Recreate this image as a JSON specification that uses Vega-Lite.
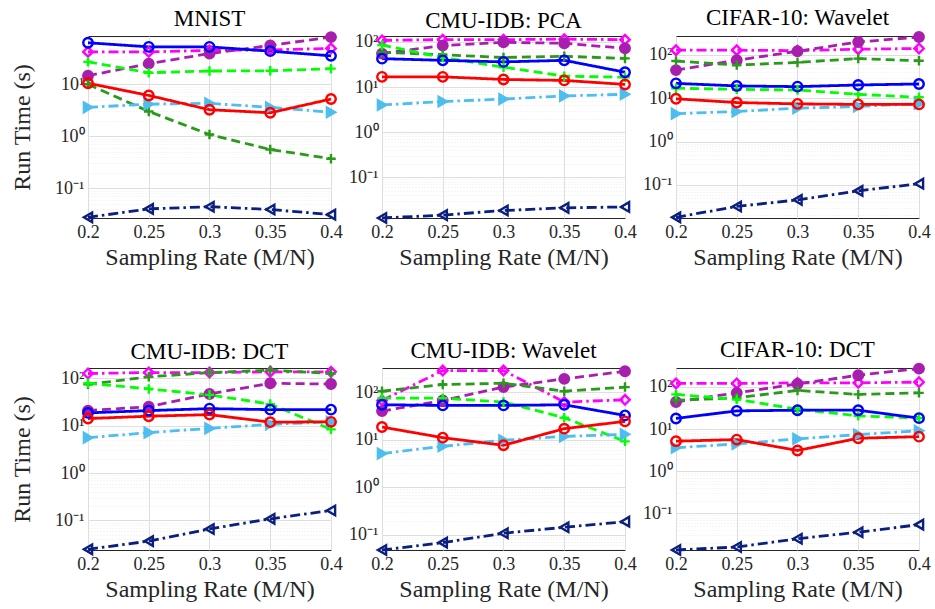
{
"$schema": "https://vega.github.io/schema/vega-lite/v6.json",
"background": "white",
"padding": {"left": 10, "top": 6, "right": 4, "bottom": 2},
"data": {"values": [
{"panel":"MNIST","series":"magenta","x":0.2,"y":42},{"panel":"MNIST","series":"magenta","x":0.25,"y":42},{"panel":"MNIST","series":"magenta","x":0.3,"y":45},{"panel":"MNIST","series":"magenta","x":0.35,"y":46},{"panel":"MNIST","series":"magenta","x":0.4,"y":49},
{"panel":"CMU-IDB: PCA","series":"magenta","x":0.2,"y":108},{"panel":"CMU-IDB: PCA","series":"magenta","x":0.25,"y":112},{"panel":"CMU-IDB: PCA","series":"magenta","x":0.3,"y":112},{"panel":"CMU-IDB: PCA","series":"magenta","x":0.35,"y":115},{"panel":"CMU-IDB: PCA","series":"magenta","x":0.4,"y":112},
{"panel":"CIFAR-10: Wavelet","series":"magenta","x":0.2,"y":128},{"panel":"CIFAR-10: Wavelet","series":"magenta","x":0.25,"y":128},{"panel":"CIFAR-10: Wavelet","series":"magenta","x":0.3,"y":125},{"panel":"CIFAR-10: Wavelet","series":"magenta","x":0.35,"y":135},{"panel":"CIFAR-10: Wavelet","series":"magenta","x":0.4,"y":140},
{"panel":"CMU-IDB: DCT","series":"magenta","x":0.2,"y":127},{"panel":"CMU-IDB: DCT","series":"magenta","x":0.25,"y":133},{"panel":"CMU-IDB: DCT","series":"magenta","x":0.3,"y":133},{"panel":"CMU-IDB: DCT","series":"magenta","x":0.35,"y":138},{"panel":"CMU-IDB: DCT","series":"magenta","x":0.4,"y":138},
{"panel":"CMU-IDB: Wavelet","series":"magenta","x":0.2,"y":66.5},{"panel":"CMU-IDB: Wavelet","series":"magenta","x":0.25,"y":283},{"panel":"CMU-IDB: Wavelet","series":"magenta","x":0.3,"y":283},{"panel":"CMU-IDB: Wavelet","series":"magenta","x":0.35,"y":61.5},{"panel":"CMU-IDB: Wavelet","series":"magenta","x":0.4,"y":68.7},
{"panel":"CIFAR-10: DCT","series":"magenta","x":0.2,"y":120},{"panel":"CIFAR-10: DCT","series":"magenta","x":0.25,"y":120},{"panel":"CIFAR-10: DCT","series":"magenta","x":0.3,"y":124},{"panel":"CIFAR-10: DCT","series":"magenta","x":0.35,"y":124},{"panel":"CIFAR-10: DCT","series":"magenta","x":0.4,"y":129},

{"panel":"MNIST","series":"purple","x":0.2,"y":14.6},{"panel":"MNIST","series":"purple","x":0.25,"y":25},{"panel":"MNIST","series":"purple","x":0.3,"y":39},{"panel":"MNIST","series":"purple","x":0.35,"y":56},{"panel":"MNIST","series":"purple","x":0.4,"y":81},
{"panel":"CMU-IDB: PCA","series":"purple","x":0.2,"y":55},{"panel":"CMU-IDB: PCA","series":"purple","x":0.25,"y":83},{"panel":"CMU-IDB: PCA","series":"purple","x":0.3,"y":98},{"panel":"CMU-IDB: PCA","series":"purple","x":0.35,"y":93},{"panel":"CMU-IDB: PCA","series":"purple","x":0.4,"y":72},
{"panel":"CIFAR-10: Wavelet","series":"purple","x":0.2,"y":44.5},{"panel":"CIFAR-10: Wavelet","series":"purple","x":0.25,"y":75},{"panel":"CIFAR-10: Wavelet","series":"purple","x":0.3,"y":121},{"panel":"CIFAR-10: Wavelet","series":"purple","x":0.35,"y":198},{"panel":"CIFAR-10: Wavelet","series":"purple","x":0.4,"y":258},
{"panel":"CMU-IDB: DCT","series":"purple","x":0.2,"y":20.9},{"panel":"CMU-IDB: DCT","series":"purple","x":0.25,"y":25.3},{"panel":"CMU-IDB: DCT","series":"purple","x":0.3,"y":47},{"panel":"CMU-IDB: DCT","series":"purple","x":0.35,"y":79},{"panel":"CMU-IDB: DCT","series":"purple","x":0.4,"y":76},
{"panel":"CMU-IDB: Wavelet","series":"purple","x":0.2,"y":39.8},{"panel":"CMU-IDB: Wavelet","series":"purple","x":0.25,"y":66.5},{"panel":"CMU-IDB: Wavelet","series":"purple","x":0.3,"y":127},{"panel":"CMU-IDB: Wavelet","series":"purple","x":0.35,"y":189},{"panel":"CMU-IDB: Wavelet","series":"purple","x":0.4,"y":273},
{"panel":"CIFAR-10: DCT","series":"purple","x":0.2,"y":43.7},{"panel":"CIFAR-10: DCT","series":"purple","x":0.25,"y":72},{"panel":"CIFAR-10: DCT","series":"purple","x":0.3,"y":117},{"panel":"CIFAR-10: DCT","series":"purple","x":0.35,"y":188},{"panel":"CIFAR-10: DCT","series":"purple","x":0.4,"y":270},

{"panel":"MNIST","series":"dgreen","x":0.2,"y":10},{"panel":"MNIST","series":"dgreen","x":0.25,"y":3.0},{"panel":"MNIST","series":"dgreen","x":0.3,"y":1.08},{"panel":"MNIST","series":"dgreen","x":0.35,"y":0.556},{"panel":"MNIST","series":"dgreen","x":0.4,"y":0.37},
{"panel":"CMU-IDB: PCA","series":"dgreen","x":0.2,"y":59},{"panel":"CMU-IDB: PCA","series":"dgreen","x":0.25,"y":52},{"panel":"CMU-IDB: PCA","series":"dgreen","x":0.3,"y":45},{"panel":"CMU-IDB: PCA","series":"dgreen","x":0.35,"y":48},{"panel":"CMU-IDB: PCA","series":"dgreen","x":0.4,"y":43},
{"panel":"CIFAR-10: Wavelet","series":"dgreen","x":0.2,"y":72},{"panel":"CIFAR-10: Wavelet","series":"dgreen","x":0.25,"y":58},{"panel":"CIFAR-10: Wavelet","series":"dgreen","x":0.3,"y":67},{"panel":"CIFAR-10: Wavelet","series":"dgreen","x":0.35,"y":82},{"panel":"CIFAR-10: Wavelet","series":"dgreen","x":0.4,"y":73},
{"panel":"CMU-IDB: DCT","series":"dgreen","x":0.2,"y":75},{"panel":"CMU-IDB: DCT","series":"dgreen","x":0.25,"y":108},{"panel":"CMU-IDB: DCT","series":"dgreen","x":0.3,"y":133},{"panel":"CMU-IDB: DCT","series":"dgreen","x":0.35,"y":149},{"panel":"CMU-IDB: DCT","series":"dgreen","x":0.4,"y":127},
{"panel":"CMU-IDB: Wavelet","series":"dgreen","x":0.2,"y":104},{"panel":"CMU-IDB: Wavelet","series":"dgreen","x":0.25,"y":144},{"panel":"CMU-IDB: Wavelet","series":"dgreen","x":0.3,"y":153},{"panel":"CMU-IDB: Wavelet","series":"dgreen","x":0.35,"y":104},{"panel":"CMU-IDB: Wavelet","series":"dgreen","x":0.4,"y":127},
{"panel":"CIFAR-10: DCT","series":"dgreen","x":0.2,"y":47.9},{"panel":"CIFAR-10: DCT","series":"dgreen","x":0.25,"y":55},{"panel":"CIFAR-10: DCT","series":"dgreen","x":0.3,"y":82},{"panel":"CIFAR-10: DCT","series":"dgreen","x":0.35,"y":66},{"panel":"CIFAR-10: DCT","series":"dgreen","x":0.4,"y":72},

{"panel":"MNIST","series":"bgreen","x":0.2,"y":27},{"panel":"MNIST","series":"bgreen","x":0.25,"y":16.7},{"panel":"MNIST","series":"bgreen","x":0.3,"y":18},{"panel":"MNIST","series":"bgreen","x":0.35,"y":18.2},{"panel":"MNIST","series":"bgreen","x":0.4,"y":20},
{"panel":"CMU-IDB: PCA","series":"bgreen","x":0.2,"y":85},{"panel":"CMU-IDB: PCA","series":"bgreen","x":0.25,"y":45},{"panel":"CMU-IDB: PCA","series":"bgreen","x":0.3,"y":27.5},{"panel":"CMU-IDB: PCA","series":"bgreen","x":0.35,"y":17.4},{"panel":"CMU-IDB: PCA","series":"bgreen","x":0.4,"y":16.5},
{"panel":"CIFAR-10: Wavelet","series":"bgreen","x":0.2,"y":17},{"panel":"CIFAR-10: Wavelet","series":"bgreen","x":0.25,"y":16},{"panel":"CIFAR-10: Wavelet","series":"bgreen","x":0.3,"y":15.5},{"panel":"CIFAR-10: Wavelet","series":"bgreen","x":0.35,"y":12.3},{"panel":"CIFAR-10: Wavelet","series":"bgreen","x":0.4,"y":10.5},
{"panel":"CMU-IDB: DCT","series":"bgreen","x":0.2,"y":79},{"panel":"CMU-IDB: DCT","series":"bgreen","x":0.25,"y":60},{"panel":"CMU-IDB: DCT","series":"bgreen","x":0.3,"y":45},{"panel":"CMU-IDB: DCT","series":"bgreen","x":0.35,"y":28.7},{"panel":"CMU-IDB: DCT","series":"bgreen","x":0.4,"y":8.4},
{"panel":"CMU-IDB: Wavelet","series":"bgreen","x":0.2,"y":74.5},{"panel":"CMU-IDB: Wavelet","series":"bgreen","x":0.25,"y":74.5},{"panel":"CMU-IDB: Wavelet","series":"bgreen","x":0.3,"y":61.5},{"panel":"CMU-IDB: Wavelet","series":"bgreen","x":0.35,"y":28.9},{"panel":"CMU-IDB: Wavelet","series":"bgreen","x":0.4,"y":9.2},
{"panel":"CIFAR-10: DCT","series":"bgreen","x":0.2,"y":66},{"panel":"CIFAR-10: DCT","series":"bgreen","x":0.25,"y":50.5},{"panel":"CIFAR-10: DCT","series":"bgreen","x":0.3,"y":29.4},{"panel":"CIFAR-10: DCT","series":"bgreen","x":0.35,"y":20.5},{"panel":"CIFAR-10: DCT","series":"bgreen","x":0.4,"y":18.1},

{"panel":"MNIST","series":"lblue","x":0.2,"y":3.6},{"panel":"MNIST","series":"lblue","x":0.25,"y":4.15},{"panel":"MNIST","series":"lblue","x":0.3,"y":4.3},{"panel":"MNIST","series":"lblue","x":0.35,"y":3.6},{"panel":"MNIST","series":"lblue","x":0.4,"y":2.9},
{"panel":"CMU-IDB: PCA","series":"lblue","x":0.2,"y":4.0},{"panel":"CMU-IDB: PCA","series":"lblue","x":0.25,"y":4.77},{"panel":"CMU-IDB: PCA","series":"lblue","x":0.3,"y":5.4},{"panel":"CMU-IDB: PCA","series":"lblue","x":0.35,"y":6.35},{"panel":"CMU-IDB: PCA","series":"lblue","x":0.4,"y":6.9},
{"panel":"CIFAR-10: Wavelet","series":"lblue","x":0.2,"y":4.4},{"panel":"CIFAR-10: Wavelet","series":"lblue","x":0.25,"y":4.95},{"panel":"CIFAR-10: Wavelet","series":"lblue","x":0.3,"y":5.9},{"panel":"CIFAR-10: Wavelet","series":"lblue","x":0.35,"y":6.45},{"panel":"CIFAR-10: Wavelet","series":"lblue","x":0.4,"y":7.5},
{"panel":"CMU-IDB: DCT","series":"lblue","x":0.2,"y":5.6},{"panel":"CMU-IDB: DCT","series":"lblue","x":0.25,"y":7.15},{"panel":"CMU-IDB: DCT","series":"lblue","x":0.3,"y":8.8},{"panel":"CMU-IDB: DCT","series":"lblue","x":0.35,"y":10.7},{"panel":"CMU-IDB: DCT","series":"lblue","x":0.4,"y":12.1},
{"panel":"CMU-IDB: Wavelet","series":"lblue","x":0.2,"y":5.1},{"panel":"CMU-IDB: Wavelet","series":"lblue","x":0.25,"y":7.25},{"panel":"CMU-IDB: Wavelet","series":"lblue","x":0.3,"y":9.7},{"panel":"CMU-IDB: Wavelet","series":"lblue","x":0.35,"y":11.7},{"panel":"CMU-IDB: Wavelet","series":"lblue","x":0.4,"y":12.9},
{"panel":"CIFAR-10: DCT","series":"lblue","x":0.2,"y":3.6},{"panel":"CIFAR-10: DCT","series":"lblue","x":0.25,"y":4.45},{"panel":"CIFAR-10: DCT","series":"lblue","x":0.3,"y":5.83},{"panel":"CIFAR-10: DCT","series":"lblue","x":0.35,"y":7.36},{"panel":"CIFAR-10: DCT","series":"lblue","x":0.4,"y":9.1},

{"panel":"MNIST","series":"navy","x":0.2,"y":0.0275},{"panel":"MNIST","series":"navy","x":0.25,"y":0.04},{"panel":"MNIST","series":"navy","x":0.3,"y":0.044},{"panel":"MNIST","series":"navy","x":0.35,"y":0.039},{"panel":"MNIST","series":"navy","x":0.4,"y":0.031},
{"panel":"CMU-IDB: PCA","series":"navy","x":0.2,"y":0.0125},{"panel":"CMU-IDB: PCA","series":"navy","x":0.25,"y":0.0145},{"panel":"CMU-IDB: PCA","series":"navy","x":0.3,"y":0.0183},{"panel":"CMU-IDB: PCA","series":"navy","x":0.35,"y":0.021},{"panel":"CMU-IDB: PCA","series":"navy","x":0.4,"y":0.022},
{"panel":"CIFAR-10: Wavelet","series":"navy","x":0.2,"y":0.0179},{"panel":"CIFAR-10: Wavelet","series":"navy","x":0.25,"y":0.0319},{"panel":"CIFAR-10: Wavelet","series":"navy","x":0.3,"y":0.0453},{"panel":"CIFAR-10: Wavelet","series":"navy","x":0.35,"y":0.073},{"panel":"CIFAR-10: Wavelet","series":"navy","x":0.4,"y":0.107},
{"panel":"CMU-IDB: DCT","series":"navy","x":0.2,"y":0.0245},{"panel":"CMU-IDB: DCT","series":"navy","x":0.25,"y":0.0365},{"panel":"CMU-IDB: DCT","series":"navy","x":0.3,"y":0.066},{"panel":"CMU-IDB: DCT","series":"navy","x":0.35,"y":0.108},{"panel":"CMU-IDB: DCT","series":"navy","x":0.4,"y":0.162},
{"panel":"CMU-IDB: Wavelet","series":"navy","x":0.2,"y":0.048},{"panel":"CMU-IDB: Wavelet","series":"navy","x":0.25,"y":0.0687},{"panel":"CMU-IDB: Wavelet","series":"navy","x":0.3,"y":0.108},{"panel":"CMU-IDB: Wavelet","series":"navy","x":0.35,"y":0.144},{"panel":"CMU-IDB: Wavelet","series":"navy","x":0.4,"y":0.189},
{"panel":"CIFAR-10: DCT","series":"navy","x":0.2,"y":0.0136},{"panel":"CIFAR-10: DCT","series":"navy","x":0.25,"y":0.016},{"panel":"CIFAR-10: DCT","series":"navy","x":0.3,"y":0.0251},{"panel":"CIFAR-10: DCT","series":"navy","x":0.35,"y":0.0359},{"panel":"CIFAR-10: DCT","series":"navy","x":0.4,"y":0.0542},

{"panel":"MNIST","series":"blue","x":0.2,"y":63},{"panel":"MNIST","series":"blue","x":0.25,"y":52.5},{"panel":"MNIST","series":"blue","x":0.3,"y":52.5},{"panel":"MNIST","series":"blue","x":0.35,"y":43.4},{"panel":"MNIST","series":"blue","x":0.4,"y":35.3},
{"panel":"CMU-IDB: PCA","series":"blue","x":0.2,"y":42.5},{"panel":"CMU-IDB: PCA","series":"blue","x":0.25,"y":39},{"panel":"CMU-IDB: PCA","series":"blue","x":0.3,"y":36},{"panel":"CMU-IDB: PCA","series":"blue","x":0.35,"y":39},{"panel":"CMU-IDB: PCA","series":"blue","x":0.4,"y":21.3},
{"panel":"CIFAR-10: Wavelet","series":"blue","x":0.2,"y":22},{"panel":"CIFAR-10: Wavelet","series":"blue","x":0.25,"y":19.2},{"panel":"CIFAR-10: Wavelet","series":"blue","x":0.3,"y":18.5},{"panel":"CIFAR-10: Wavelet","series":"blue","x":0.35,"y":20.2},{"panel":"CIFAR-10: Wavelet","series":"blue","x":0.4,"y":21.3},
{"panel":"CMU-IDB: DCT","series":"blue","x":0.2,"y":18.7},{"panel":"CMU-IDB: DCT","series":"blue","x":0.25,"y":20.9},{"panel":"CMU-IDB: DCT","series":"blue","x":0.3,"y":23},{"panel":"CMU-IDB: DCT","series":"blue","x":0.35,"y":21.9},{"panel":"CMU-IDB: DCT","series":"blue","x":0.4,"y":21.9},
{"panel":"CMU-IDB: Wavelet","series":"blue","x":0.2,"y":54},{"panel":"CMU-IDB: Wavelet","series":"blue","x":0.25,"y":52.4},{"panel":"CMU-IDB: Wavelet","series":"blue","x":0.3,"y":52.4},{"panel":"CMU-IDB: Wavelet","series":"blue","x":0.35,"y":54},{"panel":"CMU-IDB: Wavelet","series":"blue","x":0.4,"y":32.3},
{"panel":"CIFAR-10: DCT","series":"blue","x":0.2,"y":17.8},{"panel":"CIFAR-10: DCT","series":"blue","x":0.25,"y":26.9},{"panel":"CIFAR-10: DCT","series":"blue","x":0.3,"y":27.9},{"panel":"CIFAR-10: DCT","series":"blue","x":0.35,"y":27.9},{"panel":"CIFAR-10: DCT","series":"blue","x":0.4,"y":18.1},

{"panel":"MNIST","series":"red","x":0.2,"y":10.5},{"panel":"MNIST","series":"red","x":0.25,"y":6.1},{"panel":"MNIST","series":"red","x":0.3,"y":3.24},{"panel":"MNIST","series":"red","x":0.35,"y":2.83},{"panel":"MNIST","series":"red","x":0.4,"y":5.2},
{"panel":"CMU-IDB: PCA","series":"red","x":0.2,"y":16.8},{"panel":"CMU-IDB: PCA","series":"red","x":0.25,"y":16.8},{"panel":"CMU-IDB: PCA","series":"red","x":0.3,"y":14.7},{"panel":"CMU-IDB: PCA","series":"red","x":0.35,"y":14},{"panel":"CMU-IDB: PCA","series":"red","x":0.4,"y":11.4},
{"panel":"CIFAR-10: Wavelet","series":"red","x":0.2,"y":9.7},{"panel":"CIFAR-10: Wavelet","series":"red","x":0.25,"y":7.95},{"panel":"CIFAR-10: Wavelet","series":"red","x":0.3,"y":7.4},{"panel":"CIFAR-10: Wavelet","series":"red","x":0.35,"y":7.2},{"panel":"CIFAR-10: Wavelet","series":"red","x":0.4,"y":7.2},
{"panel":"CMU-IDB: DCT","series":"red","x":0.2,"y":14.2},{"panel":"CMU-IDB: DCT","series":"red","x":0.25,"y":15.9},{"panel":"CMU-IDB: DCT","series":"red","x":0.3,"y":17.2},{"panel":"CMU-IDB: DCT","series":"red","x":0.35,"y":11.9},{"panel":"CMU-IDB: DCT","series":"red","x":0.4,"y":12.1},
{"panel":"CMU-IDB: Wavelet","series":"red","x":0.2,"y":18.4},{"panel":"CMU-IDB: Wavelet","series":"red","x":0.25,"y":11},{"panel":"CMU-IDB: Wavelet","series":"red","x":0.3,"y":7.6},{"panel":"CMU-IDB: Wavelet","series":"red","x":0.35,"y":17},{"panel":"CMU-IDB: Wavelet","series":"red","x":0.4,"y":24.2},
{"panel":"CIFAR-10: DCT","series":"red","x":0.2,"y":5.15},{"panel":"CIFAR-10: DCT","series":"red","x":0.25,"y":5.62},{"panel":"CIFAR-10: DCT","series":"red","x":0.3,"y":3.1},{"panel":"CIFAR-10: DCT","series":"red","x":0.35,"y":6.04},{"panel":"CIFAR-10: DCT","series":"red","x":0.4,"y":6.6}
]},
"config": {
  "font": "Liberation Serif",
  "view": {"stroke": "#262626", "strokeWidth": 1},
  "axis": {"labelFont": "Liberation Serif", "labelFontSize": 18, "labelColor": "#262626", "titleFont": "Liberation Serif", "titleFontSize": 24, "titleFontWeight": "normal", "titleColor": "#262626", "domain": false, "ticks": false, "gridColor": "#dedede", "gridWidth": 1, "labelOverlap": false},
  "axisX": {"labelFlush": false, "labelPadding": 5, "titlePadding": 4},
  "axisY": {"labelPadding": 4, "titlePadding": 20},
  "title": {"font": "Liberation Serif", "fontSize": 23, "fontWeight": "normal", "color": "#000000", "offset": -3}
},
"columns": 3,
"spacing": {"row": 150, "column": 51},
"bounds": "flush",
"concat": [
{
  "title": "MNIST", "width": 243, "height": 182,
  "transform": [{"filter": "datum.panel === 'MNIST'"}],
  "encoding": {
    "x": {"field": "x", "type": "quantitative", "scale": {"domain": [0.2, 0.4], "nice": false, "zero": false}, "axis": {"values": [0.2, 0.25, 0.3, 0.35, 0.4], "format": "~g"}, "title": "Sampling Rate (M/N)"},
    "y": {"field": "y", "type": "quantitative", "scale": {"type": "log", "domain": [0.0267, 85], "nice": false}, "title": "Run Time (s)",
      "axis": {"values": [0.03,0.04,0.05,0.06,0.07,0.08,0.09,0.1,0.2,0.3,0.4,0.5,0.6,0.7,0.8,0.9,1,2,3,4,5,6,7,8,9,10,20,30,40,50,60,70,80],
        "labelExpr": "datum.value == 100 ? '10²' : datum.value == 10 ? '10¹' : datum.value == 1 ? '10⁰' : datum.value == 0.1 ? '10⁻¹' : ''",
        "gridDash": {"condition": {"test": "datum.value != 0.1 && datum.value != 1 && datum.value != 10 && datum.value != 100", "value": [1, 2]}, "value": []},
        "gridOpacity": {"condition": {"test": "datum.value != 0.1 && datum.value != 1 && datum.value != 10 && datum.value != 100", "value": 0.55}, "value": 1}}},
    "stroke": {"field": "series", "type": "nominal", "legend": null, "scale": {"domain": ["blue","red","lblue","navy","dgreen","bgreen","magenta","purple"], "range": ["#0000ff","#ff0000","#4dbeee","#0a1f7f","#2a9a1a","#00ff00","#ff00ff","#a81fae"]}}
  },
  "layer": [
    {"mark": {"type": "line", "strokeWidth": 2.8}, "encoding": {"strokeDash": {"field": "series", "type": "nominal", "legend": null, "scale": {"domain": ["blue","red","lblue","navy","dgreen","bgreen","magenta","purple"], "range": [[1,0],[1,0],[10,4,2.5,4],[10,4,2.5,4],[9,5],[9,5],[10,4,2.5,4],[9,5]]}}}},
    {"mark": {"type": "point", "filled": false, "strokeWidth": 2.4, "opacity": 1}, "encoding": {
      "shape": {"field": "series", "type": "nominal", "legend": null, "scale": {"domain": ["blue","red","lblue","navy","dgreen","bgreen","magenta","purple"], "range": ["circle","circle","triangle-right","triangle-left","M-1,0H1M0,-1V1","M-1,0H1M0,-1V1","diamond","circle"]}},
      "fill": {"field": "series", "type": "nominal", "legend": null, "scale": {"domain": ["blue","red","lblue","navy","dgreen","bgreen","magenta","purple"], "range": ["transparent","transparent","#4dbeee","transparent","transparent","transparent","transparent","#a81fae"]}},
      "size": {"field": "series", "type": "nominal", "legend": null, "scale": {"domain": ["blue","red","lblue","navy","dgreen","bgreen","magenta","purple"], "range": [90,90,140,120,110,110,130,40]}}}}
  ]
},
{
  "title": "CMU-IDB: PCA", "width": 243, "height": 182,
  "transform": [{"filter": "datum.panel === 'CMU-IDB: PCA'"}],
  "encoding": {
    "x": {"field": "x", "type": "quantitative", "scale": {"domain": [0.2, 0.4], "nice": false, "zero": false}, "axis": {"values": [0.2, 0.25, 0.3, 0.35, 0.4], "format": "~g"}, "title": "Sampling Rate (M/N)"},
    "y": {"field": "y", "type": "quantitative", "scale": {"type": "log", "domain": [0.0125, 135], "nice": false}, "title": null,
      "axis": {"values": [0.02,0.03,0.04,0.05,0.06,0.07,0.08,0.09,0.1,0.2,0.3,0.4,0.5,0.6,0.7,0.8,0.9,1,2,3,4,5,6,7,8,9,10,20,30,40,50,60,70,80,90,100],
        "labelExpr": "datum.value == 100 ? '10²' : datum.value == 10 ? '10¹' : datum.value == 1 ? '10⁰' : datum.value == 0.1 ? '10⁻¹' : ''",
        "gridDash": {"condition": {"test": "datum.value != 0.1 && datum.value != 1 && datum.value != 10 && datum.value != 100", "value": [1, 2]}, "value": []},
        "gridOpacity": {"condition": {"test": "datum.value != 0.1 && datum.value != 1 && datum.value != 10 && datum.value != 100", "value": 0.55}, "value": 1}}},
    "stroke": {"field": "series", "type": "nominal", "legend": null, "scale": {"domain": ["blue","red","lblue","navy","dgreen","bgreen","magenta","purple"], "range": ["#0000ff","#ff0000","#4dbeee","#0a1f7f","#2a9a1a","#00ff00","#ff00ff","#a81fae"]}}
  },
  "layer": [
    {"mark": {"type": "line", "strokeWidth": 2.8}, "encoding": {"strokeDash": {"field": "series", "type": "nominal", "legend": null, "scale": {"domain": ["blue","red","lblue","navy","dgreen","bgreen","magenta","purple"], "range": [[1,0],[1,0],[10,4,2.5,4],[10,4,2.5,4],[9,5],[9,5],[10,4,2.5,4],[9,5]]}}}},
    {"mark": {"type": "point", "filled": false, "strokeWidth": 2.4, "opacity": 1}, "encoding": {
      "shape": {"field": "series", "type": "nominal", "legend": null, "scale": {"domain": ["blue","red","lblue","navy","dgreen","bgreen","magenta","purple"], "range": ["circle","circle","triangle-right","triangle-left","M-1,0H1M0,-1V1","M-1,0H1M0,-1V1","diamond","circle"]}},
      "fill": {"field": "series", "type": "nominal", "legend": null, "scale": {"domain": ["blue","red","lblue","navy","dgreen","bgreen","magenta","purple"], "range": ["transparent","transparent","#4dbeee","transparent","transparent","transparent","transparent","#a81fae"]}},
      "size": {"field": "series", "type": "nominal", "legend": null, "scale": {"domain": ["blue","red","lblue","navy","dgreen","bgreen","magenta","purple"], "range": [90,90,140,120,110,110,130,40]}}}}
  ]
},
{
  "title": "CIFAR-10: Wavelet", "width": 243, "height": 182,
  "transform": [{"filter": "datum.panel === 'CIFAR-10: Wavelet'"}],
  "encoding": {
    "x": {"field": "x", "type": "quantitative", "scale": {"domain": [0.2, 0.4], "nice": false, "zero": false}, "axis": {"values": [0.2, 0.25, 0.3, 0.35, 0.4], "format": "~g"}, "title": "Sampling Rate (M/N)"},
    "y": {"field": "y", "type": "quantitative", "scale": {"type": "log", "domain": [0.0173, 272], "nice": false}, "title": null,
      "axis": {"values": [0.02,0.03,0.04,0.05,0.06,0.07,0.08,0.09,0.1,0.2,0.3,0.4,0.5,0.6,0.7,0.8,0.9,1,2,3,4,5,6,7,8,9,10,20,30,40,50,60,70,80,90,100,200],
        "labelExpr": "datum.value == 100 ? '10²' : datum.value == 10 ? '10¹' : datum.value == 1 ? '10⁰' : datum.value == 0.1 ? '10⁻¹' : ''",
        "gridDash": {"condition": {"test": "datum.value != 0.1 && datum.value != 1 && datum.value != 10 && datum.value != 100", "value": [1, 2]}, "value": []},
        "gridOpacity": {"condition": {"test": "datum.value != 0.1 && datum.value != 1 && datum.value != 10 && datum.value != 100", "value": 0.55}, "value": 1}}},
    "stroke": {"field": "series", "type": "nominal", "legend": null, "scale": {"domain": ["blue","red","lblue","navy","dgreen","bgreen","magenta","purple"], "range": ["#0000ff","#ff0000","#4dbeee","#0a1f7f","#2a9a1a","#00ff00","#ff00ff","#a81fae"]}}
  },
  "layer": [
    {"mark": {"type": "line", "strokeWidth": 2.8}, "encoding": {"strokeDash": {"field": "series", "type": "nominal", "legend": null, "scale": {"domain": ["blue","red","lblue","navy","dgreen","bgreen","magenta","purple"], "range": [[1,0],[1,0],[10,4,2.5,4],[10,4,2.5,4],[9,5],[9,5],[10,4,2.5,4],[9,5]]}}}},
    {"mark": {"type": "point", "filled": false, "strokeWidth": 2.4, "opacity": 1}, "encoding": {
      "shape": {"field": "series", "type": "nominal", "legend": null, "scale": {"domain": ["blue","red","lblue","navy","dgreen","bgreen","magenta","purple"], "range": ["circle","circle","triangle-right","triangle-left","M-1,0H1M0,-1V1","M-1,0H1M0,-1V1","diamond","circle"]}},
      "fill": {"field": "series", "type": "nominal", "legend": null, "scale": {"domain": ["blue","red","lblue","navy","dgreen","bgreen","magenta","purple"], "range": ["transparent","transparent","#4dbeee","transparent","transparent","transparent","transparent","#a81fae"]}},
      "size": {"field": "series", "type": "nominal", "legend": null, "scale": {"domain": ["blue","red","lblue","navy","dgreen","bgreen","magenta","purple"], "range": [90,90,140,120,110,110,130,40]}}}}
  ]
},
{
  "title": "CMU-IDB: DCT", "width": 243, "height": 182,
  "transform": [{"filter": "datum.panel === 'CMU-IDB: DCT'"}],
  "encoding": {
    "x": {"field": "x", "type": "quantitative", "scale": {"domain": [0.2, 0.4], "nice": false, "zero": false}, "axis": {"values": [0.2, 0.25, 0.3, 0.35, 0.4], "format": "~g"}, "title": "Sampling Rate (M/N)"},
    "y": {"field": "y", "type": "quantitative", "scale": {"type": "log", "domain": [0.0237, 166], "nice": false}, "title": "Run Time (s)",
      "axis": {"values": [0.03,0.04,0.05,0.06,0.07,0.08,0.09,0.1,0.2,0.3,0.4,0.5,0.6,0.7,0.8,0.9,1,2,3,4,5,6,7,8,9,10,20,30,40,50,60,70,80,90,100],
        "labelExpr": "datum.value == 100 ? '10²' : datum.value == 10 ? '10¹' : datum.value == 1 ? '10⁰' : datum.value == 0.1 ? '10⁻¹' : ''",
        "gridDash": {"condition": {"test": "datum.value != 0.1 && datum.value != 1 && datum.value != 10 && datum.value != 100", "value": [1, 2]}, "value": []},
        "gridOpacity": {"condition": {"test": "datum.value != 0.1 && datum.value != 1 && datum.value != 10 && datum.value != 100", "value": 0.55}, "value": 1}}},
    "stroke": {"field": "series", "type": "nominal", "legend": null, "scale": {"domain": ["blue","red","lblue","navy","dgreen","bgreen","magenta","purple"], "range": ["#0000ff","#ff0000","#4dbeee","#0a1f7f","#2a9a1a","#00ff00","#ff00ff","#a81fae"]}}
  },
  "layer": [
    {"mark": {"type": "line", "strokeWidth": 2.8}, "encoding": {"strokeDash": {"field": "series", "type": "nominal", "legend": null, "scale": {"domain": ["blue","red","lblue","navy","dgreen","bgreen","magenta","purple"], "range": [[1,0],[1,0],[10,4,2.5,4],[10,4,2.5,4],[9,5],[9,5],[10,4,2.5,4],[9,5]]}}}},
    {"mark": {"type": "point", "filled": false, "strokeWidth": 2.4, "opacity": 1}, "encoding": {
      "shape": {"field": "series", "type": "nominal", "legend": null, "scale": {"domain": ["blue","red","lblue","navy","dgreen","bgreen","magenta","purple"], "range": ["circle","circle","triangle-right","triangle-left","M-1,0H1M0,-1V1","M-1,0H1M0,-1V1","diamond","circle"]}},
      "fill": {"field": "series", "type": "nominal", "legend": null, "scale": {"domain": ["blue","red","lblue","navy","dgreen","bgreen","magenta","purple"], "range": ["transparent","transparent","#4dbeee","transparent","transparent","transparent","transparent","#a81fae"]}},
      "size": {"field": "series", "type": "nominal", "legend": null, "scale": {"domain": ["blue","red","lblue","navy","dgreen","bgreen","magenta","purple"], "range": [90,90,140,120,110,110,130,40]}}}}
  ]
},
{
  "title": "CMU-IDB: Wavelet", "width": 243, "height": 182,
  "transform": [{"filter": "datum.panel === 'CMU-IDB: Wavelet'"}],
  "encoding": {
    "x": {"field": "x", "type": "quantitative", "scale": {"domain": [0.2, 0.4], "nice": false, "zero": false}, "axis": {"values": [0.2, 0.25, 0.3, 0.35, 0.4], "format": "~g"}, "title": "Sampling Rate (M/N)"},
    "y": {"field": "y", "type": "quantitative", "scale": {"type": "log", "domain": [0.048, 320], "nice": false}, "title": null,
      "axis": {"values": [0.05,0.06,0.07,0.08,0.09,0.1,0.2,0.3,0.4,0.5,0.6,0.7,0.8,0.9,1,2,3,4,5,6,7,8,9,10,20,30,40,50,60,70,80,90,100,200,300],
        "labelExpr": "datum.value == 100 ? '10²' : datum.value == 10 ? '10¹' : datum.value == 1 ? '10⁰' : datum.value == 0.1 ? '10⁻¹' : ''",
        "gridDash": {"condition": {"test": "datum.value != 0.1 && datum.value != 1 && datum.value != 10 && datum.value != 100", "value": [1, 2]}, "value": []},
        "gridOpacity": {"condition": {"test": "datum.value != 0.1 && datum.value != 1 && datum.value != 10 && datum.value != 100", "value": 0.55}, "value": 1}}},
    "stroke": {"field": "series", "type": "nominal", "legend": null, "scale": {"domain": ["blue","red","lblue","navy","dgreen","bgreen","magenta","purple"], "range": ["#0000ff","#ff0000","#4dbeee","#0a1f7f","#2a9a1a","#00ff00","#ff00ff","#a81fae"]}}
  },
  "layer": [
    {"mark": {"type": "line", "strokeWidth": 2.8}, "encoding": {"strokeDash": {"field": "series", "type": "nominal", "legend": null, "scale": {"domain": ["blue","red","lblue","navy","dgreen","bgreen","magenta","purple"], "range": [[1,0],[1,0],[10,4,2.5,4],[10,4,2.5,4],[9,5],[9,5],[10,4,2.5,4],[9,5]]}}}},
    {"mark": {"type": "point", "filled": false, "strokeWidth": 2.4, "opacity": 1}, "encoding": {
      "shape": {"field": "series", "type": "nominal", "legend": null, "scale": {"domain": ["blue","red","lblue","navy","dgreen","bgreen","magenta","purple"], "range": ["circle","circle","triangle-right","triangle-left","M-1,0H1M0,-1V1","M-1,0H1M0,-1V1","diamond","circle"]}},
      "fill": {"field": "series", "type": "nominal", "legend": null, "scale": {"domain": ["blue","red","lblue","navy","dgreen","bgreen","magenta","purple"], "range": ["transparent","transparent","#4dbeee","transparent","transparent","transparent","transparent","#a81fae"]}},
      "size": {"field": "series", "type": "nominal", "legend": null, "scale": {"domain": ["blue","red","lblue","navy","dgreen","bgreen","magenta","purple"], "range": [90,90,140,120,110,110,130,40]}}}}
  ]
},
{
  "title": "CIFAR-10: DCT", "width": 243, "height": 182,
  "transform": [{"filter": "datum.panel === 'CIFAR-10: DCT'"}],
  "encoding": {
    "x": {"field": "x", "type": "quantitative", "scale": {"domain": [0.2, 0.4], "nice": false, "zero": false}, "axis": {"values": [0.2, 0.25, 0.3, 0.35, 0.4], "format": "~g"}, "title": "Sampling Rate (M/N)"},
    "y": {"field": "y", "type": "quantitative", "scale": {"type": "log", "domain": [0.0136, 279], "nice": false}, "title": null,
      "axis": {"values": [0.02,0.03,0.04,0.05,0.06,0.07,0.08,0.09,0.1,0.2,0.3,0.4,0.5,0.6,0.7,0.8,0.9,1,2,3,4,5,6,7,8,9,10,20,30,40,50,60,70,80,90,100,200],
        "labelExpr": "datum.value == 100 ? '10²' : datum.value == 10 ? '10¹' : datum.value == 1 ? '10⁰' : datum.value == 0.1 ? '10⁻¹' : ''",
        "gridDash": {"condition": {"test": "datum.value != 0.1 && datum.value != 1 && datum.value != 10 && datum.value != 100", "value": [1, 2]}, "value": []},
        "gridOpacity": {"condition": {"test": "datum.value != 0.1 && datum.value != 1 && datum.value != 10 && datum.value != 100", "value": 0.55}, "value": 1}}},
    "stroke": {"field": "series", "type": "nominal", "legend": null, "scale": {"domain": ["blue","red","lblue","navy","dgreen","bgreen","magenta","purple"], "range": ["#0000ff","#ff0000","#4dbeee","#0a1f7f","#2a9a1a","#00ff00","#ff00ff","#a81fae"]}}
  },
  "layer": [
    {"mark": {"type": "line", "strokeWidth": 2.8}, "encoding": {"strokeDash": {"field": "series", "type": "nominal", "legend": null, "scale": {"domain": ["blue","red","lblue","navy","dgreen","bgreen","magenta","purple"], "range": [[1,0],[1,0],[10,4,2.5,4],[10,4,2.5,4],[9,5],[9,5],[10,4,2.5,4],[9,5]]}}}},
    {"mark": {"type": "point", "filled": false, "strokeWidth": 2.4, "opacity": 1}, "encoding": {
      "shape": {"field": "series", "type": "nominal", "legend": null, "scale": {"domain": ["blue","red","lblue","navy","dgreen","bgreen","magenta","purple"], "range": ["circle","circle","triangle-right","triangle-left","M-1,0H1M0,-1V1","M-1,0H1M0,-1V1","diamond","circle"]}},
      "fill": {"field": "series", "type": "nominal", "legend": null, "scale": {"domain": ["blue","red","lblue","navy","dgreen","bgreen","magenta","purple"], "range": ["transparent","transparent","#4dbeee","transparent","transparent","transparent","transparent","#a81fae"]}},
      "size": {"field": "series", "type": "nominal", "legend": null, "scale": {"domain": ["blue","red","lblue","navy","dgreen","bgreen","magenta","purple"], "range": [90,90,140,120,110,110,130,40]}}}}
  ]
}
]
}
